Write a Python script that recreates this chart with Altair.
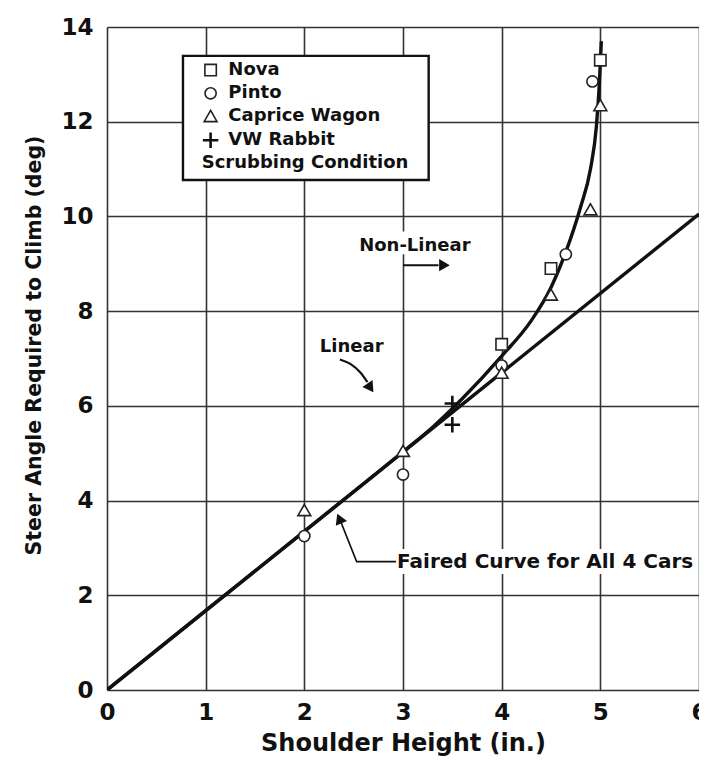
import altair as alt
import pandas as pd

FONT = "DejaVu Sans"

# ---- data ----
nova_x = [4.0, 4.5, 5.0]
nova_y = [7.3, 8.9, 13.3]
pinto_x = [2.0, 3.0, 4.0, 4.65, 4.92]
pinto_y = [3.25, 4.55, 6.85, 9.2, 12.85]
caprice_x = [2.0, 3.0, 4.0, 4.5, 4.9, 5.0]
caprice_y = [3.8, 5.05, 6.7, 8.35, 10.15, 12.35]
vw_x = [3.5, 3.5]
vw_y = [6.05, 5.6]

linear_x = [0.0, 6.0]
linear_y = [0.0, 10.05]

nonlin_x = [0.0, 1.0, 2.0, 3.0, 3.3, 3.6, 4.0, 4.3, 4.5, 4.65, 4.8, 4.9, 4.96, 4.99, 5.01]
nonlin_y = [0.0, 1.675, 3.35, 5.03, 5.55, 6.15, 7.05, 7.8, 8.5, 9.25, 10.2, 11.0, 11.9, 12.8, 13.7]

x_ticks = [0, 1, 2, 3, 4, 5, 6]
y_ticks = [0, 2, 4, 6, 8, 10, 12, 14]

legend_labels = ["Nova", "Pinto", "Caprice Wagon", "VW Rabbit"]
legend_y = [13.09, 12.6, 12.12, 11.61]
legend_sym_x = 1.05
legend_text_x = 1.23
legend_note = "Scrubbing Condition"
legend_note_pos = (0.96, 11.13)
legend_box = (0.77, 3.26, 10.77, 13.39)

PLUS = "M-1,0L1,0M0,-1L0,1"
shapes = {"Nova": "square", "Pinto": "circle", "Caprice Wagon": "triangle-up", "VW Rabbit": PLUS}

W, H = 592, 663
xs = alt.Scale(domain=[0, 6], nice=False, zero=False)
ys = alt.Scale(domain=[0, 14], nice=False, zero=False)

xax = alt.Axis(values=x_ticks, grid=True, ticks=False, domain=False, format="d",
               labelFont=FONT, labelFontWeight="bold", labelFontSize=23, labelColor="#111",
               labelPadding=11, title="Shoulder Height (in.)", titleFont=FONT,
               titleFontWeight="bold", titleFontSize=24, titleColor="#111", titlePadding=7,
               gridColor="#333333", gridWidth=1.6, gridOpacity=1, labelFlush=False)
yax = alt.Axis(values=y_ticks, grid=True, ticks=False, domain=False, format="d",
               labelFont=FONT, labelFontWeight="bold", labelFontSize=23, labelColor="#111",
               labelPadding=14, title="Steer Angle Required to Climb (deg)", titleFont=FONT,
               titleFontWeight="bold", titleFontSize=20.5, titleColor="#111", titlePadding=16,
               titleY=318,
               gridColor="#333333", gridWidth=1.6, gridOpacity=1, labelFlush=False)


def X():
    return alt.X("x:Q", scale=xs, axis=xax)


def Y():
    return alt.Y("y:Q", scale=ys, axis=yax)


# white boxes behind annotation texts and legend
boxes = pd.DataFrame({
    "x": [2.5, 2.9, legend_box[0]],
    "x2": [3.75, 5.99, legend_box[1]],
    "y": [9.2, 2.45, legend_box[2]],
    "y2": [9.68, 2.98, legend_box[3]],
    "sw": [0, 0, 2.4],
})
box_layer = alt.Chart(boxes).mark_rect(fill="white", stroke="#111").encode(
    x=X(), x2="x2:Q", y=Y(), y2="y2:Q",
    strokeWidth=alt.StrokeWidth("sw:Q", scale=None, legend=None))

lin = alt.Chart(pd.DataFrame({"x": linear_x, "y": linear_y})).mark_line(
    color="#111", strokeWidth=3.4, clip=True).encode(x=X(), y=Y())
nonlin = alt.Chart(pd.DataFrame({"x": nonlin_x, "y": nonlin_y})).mark_line(
    color="#111", strokeWidth=3.4, clip=True, interpolate="monotone").encode(x=X(), y=Y(), order="x:Q")

# annotation arrows
nl_arrow = alt.Chart(pd.DataFrame({"x": [3.0, 3.36], "y": [8.97, 8.97]})).mark_line(
    color="#111", strokeWidth=2).encode(x=X(), y=Y())
lin_arrow = alt.Chart(pd.DataFrame({"x": [2.36, 2.47, 2.57, 2.64], "y": [6.98, 6.88, 6.7, 6.5]})).mark_line(
    color="#111", strokeWidth=2.2, interpolate="monotone").encode(x=X(), y=Y(), order="x:Q")
fc_arrow = alt.Chart(pd.DataFrame({"x": [2.93, 2.53, 2.37], "y": [2.71, 2.71, 3.55], "o": [0, 1, 2]})).mark_line(
    color="#111", strokeWidth=1.6).encode(x=X(), y=Y(), order="o:Q")

heads = pd.DataFrame({"x": [3.42, 2.67, 2.355], "y": [8.97, 6.38, 3.62], "a": [90, 146, 337]})
head_layer = alt.Chart(heads).mark_point(shape="triangle-up", filled=True, color="#111",
                                          size=150, opacity=1).encode(
    x=X(), y=Y(), angle=alt.Angle("a:Q", scale=None))

texts = pd.DataFrame({
    "x": [3.12, 2.48, 2.94],
    "y": [9.38, 7.25, 2.71],
    "t": ["Non-Linear", "Linear", "Faired Curve for All 4 Cars"],
    "al": ["center", "center", "left"],
    "fs": [18, 18, 20],
})
text_layers = []
for _, r in texts.iterrows():
    text_layers.append(alt.Chart(pd.DataFrame([r])).mark_text(
        font=FONT, fontWeight="bold", fontSize=float(r["fs"]), color="#111",
        align=r["al"], baseline="middle").encode(x=X(), y=Y(), text="t:N"))

# data markers
rows = []
for name, xx, yy in [("Nova", nova_x, nova_y), ("Pinto", pinto_x, pinto_y),
                     ("Caprice Wagon", caprice_x, caprice_y), ("VW Rabbit", vw_x, vw_y)]:
    for a, b in zip(xx, yy):
        rows.append({"x": a, "y": b, "car": name})
pts = pd.DataFrame(rows)
leg_pts = pd.DataFrame({"x": [legend_sym_x] * 4, "y": legend_y, "car": legend_labels})

sizes = {"Nova": 130, "Pinto": 125, "Caprice Wagon": 165, "VW Rabbit": 240}


def marker_layer(df):
    layers = []
    for name in legend_labels:
        sub = df[df["car"] == name]
        if name == "VW Rabbit":
            m = alt.Chart(sub).mark_point(shape=PLUS, filled=False, color="#111",
                                          strokeWidth=2.6, size=sizes[name], opacity=1)
        else:
            m = alt.Chart(sub).mark_point(shape=shapes[name], filled=True, fill="white",
                                          stroke="#222", strokeWidth=1.6, size=sizes[name], opacity=1)
        layers.append(m.encode(x=X(), y=Y()))
    return layers


legend_text = pd.DataFrame({"x": [legend_text_x] * 4 + [legend_note_pos[0]],
                            "y": legend_y + [legend_note_pos[1]],
                            "t": legend_labels + [legend_note]})
leg_text_layer = alt.Chart(legend_text).mark_text(
    font=FONT, fontWeight="bold", fontSize=18, color="#111",
    align="left", baseline="middle").encode(x=X(), y=Y(), text="t:N")

chart = alt.layer(
    box_layer, lin, nonlin, nl_arrow, lin_arrow, fc_arrow, head_layer,
    *text_layers, *marker_layer(pts), *marker_layer(leg_pts), leg_text_layer
).properties(
    width=W, height=H,
    autosize=alt.AutoSizeParams(type="none"),
    padding={"left": 99, "top": 19, "right": 0, "bottom": 66},
).configure_view(stroke="#111", strokeWidth=2.8).configure(background="white")

chart.save("out.html", embed_options={"renderer": "svg", "actions": False})
